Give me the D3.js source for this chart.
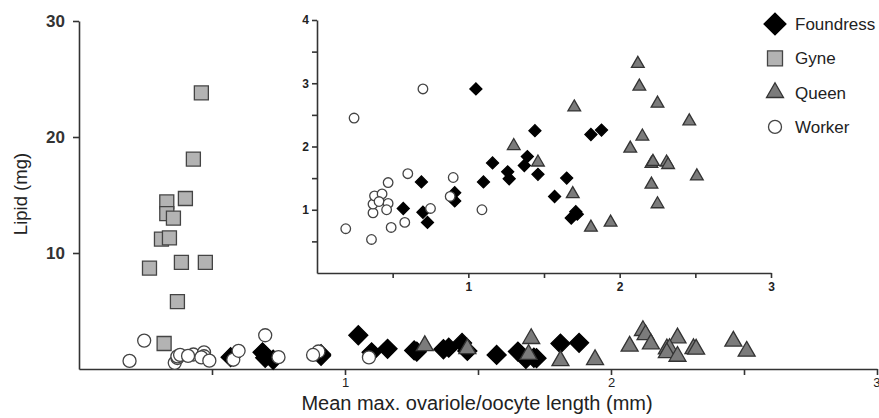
<!DOCTYPE html>
<html>
<head>
<meta charset="utf-8">
<script src="https://cdn.jsdelivr.net/npm/d3@7"></script>
<style>
  body { margin: 0; background: #fff; }
  svg { display: block; font-family: "Liberation Sans", Arial, sans-serif; }
  .axis path, .axis line { stroke: #333; stroke-width: 1.6px; }
  .axis text { fill: #222; }
</style>
</head>
<body>
<script>
// values
var gyneX = [0.46, 0.43, 0.40, 0.33, 0.33, 0.355, 0.31, 0.34, 0.265, 0.385, 0.475, 0.37, 0.32];
var gyneY = [23.8, 18.1, 14.7, 14.4, 13.4, 13.0, 11.2, 11.3, 8.7, 9.2, 9.2, 5.8, 2.2];

var foundressX = [0.57, 0.69, 0.70, 0.73, 0.91, 0.91, 1.05, 1.10, 1.16, 1.26, 1.27, 1.37, 1.39, 1.44, 1.46, 1.57, 1.65, 1.68, 1.71, 1.72, 1.81, 1.88];
var foundressY = [1.02, 1.44, 0.96, 0.80, 1.27, 1.14, 2.91, 1.44, 1.74, 1.60, 1.49, 1.70, 1.84, 2.25, 1.56, 1.21, 1.50, 0.87, 0.97, 0.93, 2.19, 2.26];

var queenX = [1.30, 1.46, 1.70, 1.69, 1.81, 1.94, 2.12, 2.13, 2.25, 2.46, 2.15, 2.07, 2.21, 2.22, 2.31, 2.32, 2.21, 2.25, 2.51];
var queenY = [2.01, 1.75, 2.62, 1.25, 0.72, 0.80, 3.31, 2.95, 2.68, 2.40, 2.16, 1.97, 1.73, 1.76, 1.75, 1.71, 1.40, 1.09, 1.53];

var workerX = [0.19, 0.245, 0.36, 0.37, 0.37, 0.38, 0.43, 0.41, 0.47, 0.47, 0.46, 0.49, 0.58, 0.60, 0.70, 0.75, 0.90, 0.88, 1.09];
var workerY = [0.70, 2.45, 0.53, 0.95, 1.09, 1.22, 1.25, 1.13, 1.43, 1.10, 1.00, 0.72, 0.80, 1.57, 2.91, 1.02, 1.51, 1.21, 1.00];

var legendLabels = ["Foundress", "Gyne", "Queen", "Worker"];
var mainXTicks = [0.5, 1, 1.5, 2, 2.5, 3];
var mainYTicks = [10, 20, 30];
var insetXTicks = [0.5, 1, 1.5, 2, 2.5, 3];
var insetYTicks = [0.5, 1, 1.5, 2, 2.5, 3, 3.5, 4];

var width = 879,
    height = 418;

var svg = d3.select("body").append("svg")
    .attr("width", width)
    .attr("height", height);

function zip(xs, ys) {
    return xs.map(function(x, i) { return [x, ys[i]]; });
}

var groups = {
    Foundress: { pts: zip(foundressX, foundressY), shape: d3.symbolSquare, rot: 45, fill: "#000", stroke: "#000" },
    Gyne:      { pts: zip(gyneX, gyneY), shape: d3.symbolSquare, rot: 0, fill: "#b3b3b3", stroke: "#444" },
    Queen:     { pts: zip(queenX, queenY), shape: d3.symbolTriangle, rot: 0, fill: "#7b7b7b", stroke: "#333" },
    Worker:    { pts: zip(workerX, workerY), shape: d3.symbolCircle, rot: 0, fill: "#fff", stroke: "#444" }
};

function intFormat(d) { return d % 1 === 0 ? d : ""; }

function drawMarks(g, name, x, y, size) {
    var s = groups[name];
    var sym = d3.symbol().type(s.shape).size(size);
    g.append("g").selectAll("path")
        .data(s.pts)
        .enter().append("path")
        .attr("d", sym)
        .attr("transform", function(d) {
            return "translate(" + x(d[0]) + "," + y(d[1]) + ") rotate(" + s.rot + ")";
        })
        .attr("fill", s.fill)
        .attr("stroke", s.stroke)
        .attr("stroke-width", 1.3);
}

// main chart
var x = d3.scaleLinear().domain([0, 3]).range([79, 877]);
var y = d3.scaleLinear().domain([0, 30]).range([369, 21]);

var gx = svg.append("g").attr("class", "axis")
    .attr("transform", "translate(0," + y(0) + ")")
    .call(d3.axisBottom(x).tickValues(mainXTicks).tickFormat(intFormat).tickSize(6).tickSizeOuter(0).tickPadding(3));
gx.selectAll("text").style("font-size", "13px");
// last label sits on the edge, keep it inside
gx.selectAll(".tick:last-of-type text").attr("text-anchor", "end").attr("x", 3);

var gy = svg.append("g").attr("class", "axis")
    .attr("transform", "translate(" + x(0) + ",0)")
    .call(d3.axisLeft(y).tickValues(mainYTicks).tickSize(6).tickSizeOuter(0).tickPadding(8));
gy.selectAll("text").style("font-size", "17px").style("font-weight", "bold").style("fill", "#333");

svg.append("text")
    .attr("x", 477)
    .attr("y", 410)
    .attr("text-anchor", "middle")
    .style("font-size", "20px")
    .style("fill", "#222")
    .text("Mean max. ovariole/oocyte length (mm)");

svg.append("text")
    .attr("transform", "translate(27,194) rotate(-90)")
    .attr("text-anchor", "middle")
    .style("font-size", "18.5px")
    .style("fill", "#222")
    .text("Lipid (mg)");

var main = svg.append("g");
drawMarks(main, "Foundress", x, y, 180);
drawMarks(main, "Gyne", x, y, 196);
drawMarks(main, "Queen", x, y, 125);
drawMarks(main, "Worker", x, y, 133);

// inset
var ix = d3.scaleLinear().domain([0, 3]).range([317, 771]);
var iy = d3.scaleLinear().domain([0, 4]).range([273, 20]);

var igx = svg.append("g").attr("class", "axis")
    .attr("transform", "translate(0," + iy(0) + ")")
    .call(d3.axisBottom(ix).tickValues(insetXTicks).tickFormat(intFormat).tickSize(5).tickSizeOuter(0).tickPadding(4));
igx.selectAll("text").style("font-size", "12px").style("font-weight", "bold");

var igy = svg.append("g").attr("class", "axis")
    .attr("transform", "translate(" + ix(0) + ",0)")
    .call(d3.axisLeft(iy).tickValues(insetYTicks).tickFormat(intFormat).tickSize(5).tickSizeOuter(0).tickPadding(3));
igy.selectAll("text").style("font-size", "12px").style("font-weight", "bold");

var inset = svg.append("g");
drawMarks(inset, "Foundress", ix, iy, 72);
drawMarks(inset, "Queen", ix, iy, 70);
drawMarks(inset, "Worker", ix, iy, 72);

// legend
var legSizes = { Foundress: 240, Gyne: 225, Queen: 125, Worker: 133 };
var leg = svg.append("g").selectAll("g")
    .data(legendLabels)
    .enter().append("g")
    .attr("transform", function(d, i) { return "translate(775," + (24 + i * 34.3) + ")"; });

leg.append("path")
    .attr("d", function(d) { return d3.symbol().type(groups[d].shape).size(legSizes[d])(); })
    .attr("transform", function(d) { return "rotate(" + groups[d].rot + ")"; })
    .attr("fill", function(d) { return groups[d].fill; })
    .attr("stroke", function(d) { return groups[d].stroke; })
    .attr("stroke-width", 1.3);

leg.append("text")
    .attr("x", 20)
    .attr("dy", "0.35em")
    .style("font-size", "17px")
    .style("fill", "#222")
    .text(function(d) { return d; });
</script>
</body>
</html>
